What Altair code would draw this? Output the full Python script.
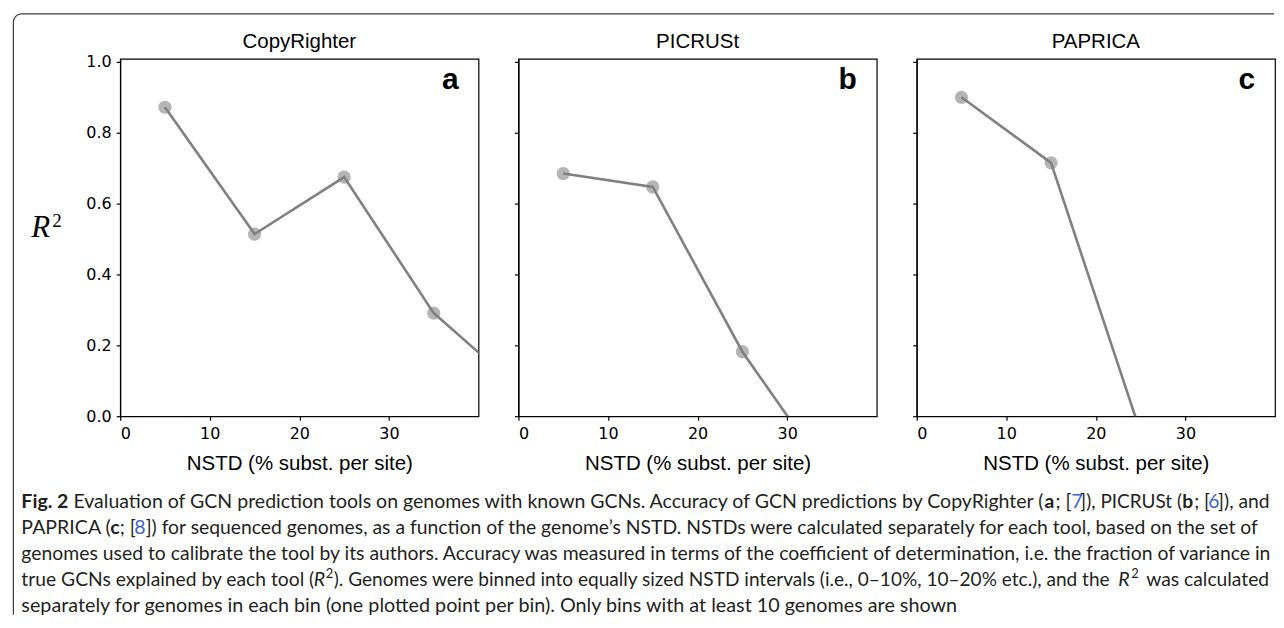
import math
import altair as alt
import pandas as pd

# ---------------- data ----------------
panel_names = ["CopyRighter", "PICRUSt", "PAPRICA"]
panel_letters = ["a", "b", "c"]

nstd_a = [5, 15, 25, 35, 45]
r2_a = [0.872, 0.514, 0.675, 0.291, 0.069]

nstd_b = [5, 15, 25, 35]
r2_b = [0.685, 0.647, 0.182, -0.18]

nstd_c = [5, 15, 25]
r2_c = [0.900, 0.715, -0.046]

x_ticks = [0, 10, 20, 30]
y_ticks = [0.0, 0.2, 0.4, 0.6, 0.8, 1.0]
x_title = "NSTD (% subst. per site)"

# ---------------- layout constants ----------------
W, H = 359, 358
PANEL_LEFT, PANEL_TOP = 119, 57     # page position of panel a plot area
FRAME_X, FRAME_Y, FRAME_R = 12, 12, 8
FRAME_W = 1.2


def X(p):
    return p - PANEL_LEFT


def Y(p):
    return p - PANEL_TOP


one = pd.DataFrame({"k": [0]})


def txt(s, xp, yp, size, font="Lato", weight="normal", style="normal",
        color="#231f20", align="left", baseline="alphabetic"):
    return alt.Chart(one).mark_text(
        text=s, font=font, fontSize=size, fontWeight=weight, fontStyle=style,
        color=color, align=align, baseline=baseline
    ).encode(x=alt.value(xp), y=alt.value(yp))


def panel(nstd, r2, name, letter, show_labels):
    df = pd.DataFrame({"nstd": nstd, "r2": r2})
    base = alt.Chart(df)
    x = alt.X("nstd:Q", scale=alt.Scale(domain=[0, 40], nice=False, zero=False),
              axis=alt.Axis(values=x_ticks, title=x_title, format="d",
                            titleY=53, titleBaseline="alphabetic"))
    y = alt.Y("r2:Q", scale=alt.Scale(domain=[0, 1.0085], nice=False, zero=False),
              axis=alt.Axis(values=y_ticks, format=".1f", labels=show_labels, title=None))
    pts = base.mark_circle(size=175, color="#808080", opacity=0.58, clip=True).encode(x=x, y=y)
    line = base.mark_line(color="#808080", strokeWidth=2.6, clip=True).encode(x=x, y=y)
    title = txt(name, W / 2, -11, 20.5, font="Liberation Sans", color="#000", align="center")
    lab = txt(letter, W - 20, 30, 30, font="Liberation Sans", weight="bold", color="#000", align="right")
    return alt.layer(pts, line, title, lab).properties(width=W, height=H)


pa = panel(nstd_a, r2_a, panel_names[0], panel_letters[0], True)
pb = panel(nstd_b, r2_b, panel_names[1], panel_letters[1], False)
pc = panel(nstd_c, r2_c, panel_names[2], panel_letters[2], False)

# ---------------- annotations drawn from panel a ----------------
ink = "#3c3c3c"
blue = "#3a62d0"
ann = []
# frame (top + left, rounded top-left corner)
ann.append(alt.Chart(one).mark_rule(color=ink, strokeWidth=FRAME_W).encode(
    x=alt.value(X(FRAME_X)), y=alt.value(Y(FRAME_Y + FRAME_R)), y2=alt.value(Y(614))))
ann.append(alt.Chart(one).mark_rule(color=ink, strokeWidth=FRAME_W).encode(
    x=alt.value(X(FRAME_X + FRAME_R)), x2=alt.value(X(1275)), y=alt.value(Y(FRAME_Y))))
ann.append(alt.Chart(one).mark_arc(
    radius=FRAME_R + FRAME_W / 2, radius2=FRAME_R - FRAME_W / 2,
    theta=1.5 * math.pi, theta2=2 * math.pi, color=ink).encode(
    x=alt.value(X(FRAME_X + FRAME_R)), y=alt.value(Y(FRAME_Y + FRAME_R))))

# R^2 axis label
ann.append(txt("R", X(30), Y(235), 31, font="Liberation Serif", style="italic", color="#000"))
ann.append(txt("2", X(51), Y(225), 19, font="Liberation Serif", color="#000"))

# caption: (text, x, baseline, weight, style, colour, size, align)
b1, b2, b3, b4, b5 = 507, 533, 559, 585, 611
cap = [
    ("Fig. 2", 20, b1, "bold", "normal", None, 19.6, "left"),
    ("Evaluation of GCN prediction tools on genomes with known GCNs. Accuracy of GCN predictions by CopyRighter (",
     1044, b1, "normal", "normal", None, 19.55, "right"),
    ("a", 1045, b1, "bold", "normal", None, 19.3, "left"),
    ("; [", 1056, b1, "normal", "normal", None, 19.3, "left"),
    ("7", 1072, b1, "normal", "normal", blue, 19.3, "left"),
    ("]), PICRUSt (", 1081, b1, "normal", "normal", None, 19.0, "left"),
    ("b", 1183, b1, "bold", "normal", None, 19.3, "left"),
    ("; [", 1195, b1, "normal", "normal", None, 19.3, "left"),
    ("6", 1209, b1, "normal", "normal", blue, 19.3, "left"),
    ("]), and", 1219, b1, "normal", "normal", None, 19.3, "left"),
    ("PAPRICA (", 20, b2, "normal", "normal", None, 19.6, "left"),
    ("c", 109, b2, "bold", "normal", None, 19.6, "left"),
    ("; [", 118.5, b2, "normal", "normal", None, 19.6, "left"),
    ("8", 133, b2, "normal", "normal", blue, 19.6, "left"),
    ("]) for sequenced genomes, as a function of the genome\u2019s NSTD. NSTDs were calculated separately for each tool, based on the set of",
     144.5, b2, "normal", "normal", None, 19.37, "left"),
    ("genomes used to calibrate the tool by its authors. Accuracy was measured in terms of the coefficient of determination, i.e. the fraction of variance in",
     20, b3, "normal", "normal", None, 19.4, "left"),
    ("true GCNs explained by each tool (", 20, b4, "normal", "normal", None, 19.3, "left"),
    ("R", 313, b4, "normal", "italic", None, 19.6, "left"),
    ("2", 325, b4 - 8, "normal", "normal", None, 13, "left"),
    ("). Genomes were binned into equally sized NSTD intervals (i.e., 0\u201310%, 10\u201320% etc.), and the",
     333, b4, "normal", "normal", None, 19.1, "left"),
    ("R", 1119, b4, "normal", "italic", None, 19.6, "left"),
    ("2", 1132, b4 - 8, "normal", "normal", None, 13, "left"),
    ("was calculated", 1147, b4, "normal", "normal", None, 19.3, "left"),
    ("separately for genomes in each bin (one plotted point per bin). Only bins with at least 10 genomes are shown",
     20, b5, "normal", "normal", None, 19.8, "left"),
]
for s, xp, yp, wt, st, col, sz, al in cap:
    ann.append(txt(s, X(xp), Y(yp), sz, weight=wt, style=st, color=col or "#231f20", align=al))

pa = alt.layer(pa, *ann)

pad = FRAME_X - 8 - FRAME_W / 2
chart = alt.hconcat(pa, pb, pc, spacing=40, bounds="flush").properties(
    padding={"left": pad, "top": pad, "right": 0, "bottom": 0}
).configure_view(
    stroke="#000", strokeWidth=1.2
).configure_axis(
    domainColor="#000", domainWidth=1.2, tickColor="#000", tickWidth=1.2, tickSize=4,
    labelFont="DejaVu Sans", labelFontSize=16, labelColor="#000", labelPadding=5,
    titleFont="Liberation Sans", titleFontSize=20.5, titleFontWeight="normal", titleColor="#000",
    grid=False
)

chart.save("out.html", embed_options={"renderer": "svg", "actions": False})
